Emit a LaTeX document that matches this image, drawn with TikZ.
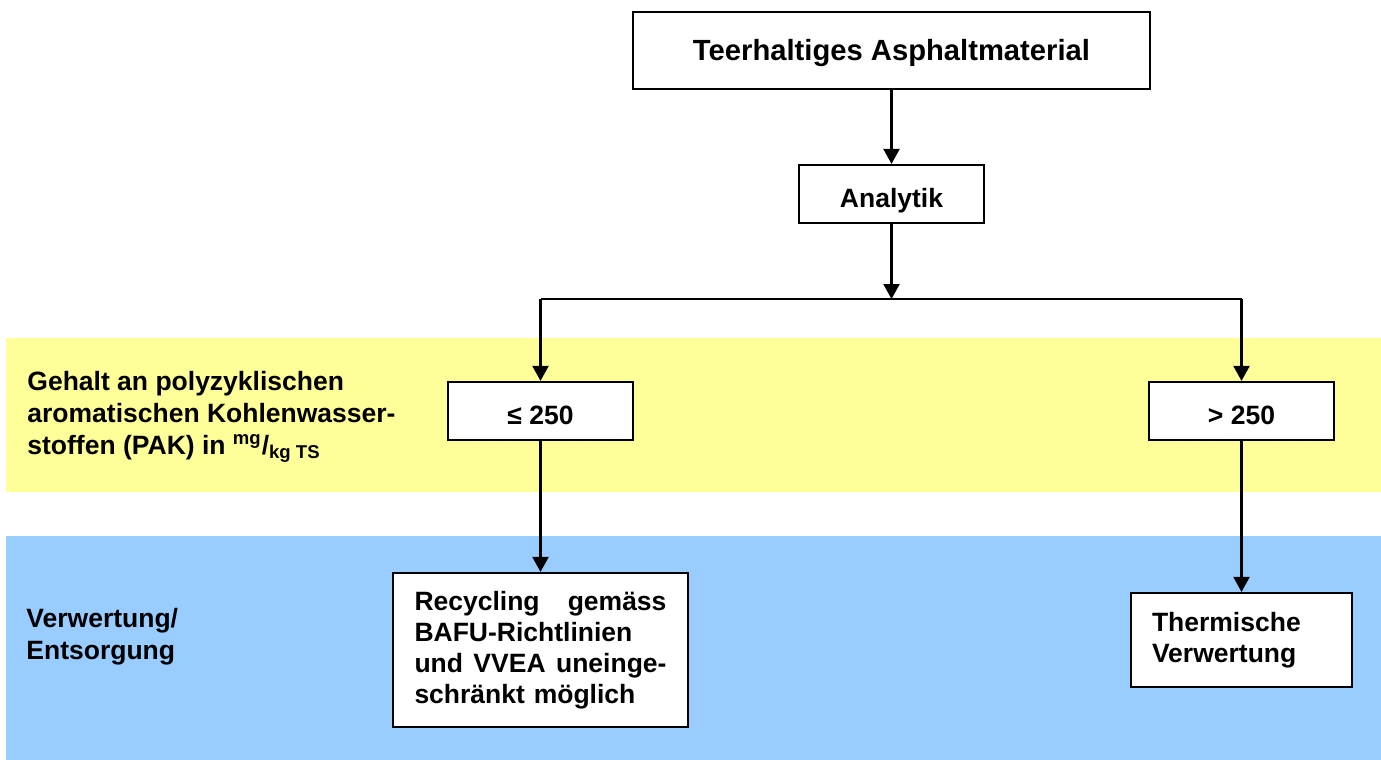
\documentclass[tikz,border=0pt]{standalone}
\usepackage{fontspec}
\setmainfont{Liberation Sans}
\usetikzlibrary{arrows.meta}
\definecolor{bandyellow}{RGB}{255,255,153}
\definecolor{bandblue}{RGB}{153,204,255}
\begin{document}
\begin{tikzpicture}[x=0.5pt,y=-0.5pt,
  box/.style={draw=black,line width=1.1pt,fill=white,inner sep=0pt,
    font=\bfseries\fontsize{13.25}{16}\selectfont},
  onebox/.style={box,text height=13pt,text depth=0pt},
  arr/.style={line width=1.1pt,-{Triangle[length=7.5pt,width=8pt]}},
  plain/.style={line width=1.1pt},
  lbl/.style={inner sep=0pt,align=left,anchor=west,
    font=\bfseries\fontsize{13.25}{16}\selectfont}]
\useasboundingbox (0,0) rectangle (1381,760);
% bands
\fill[bandyellow] (6,338) rectangle (1381,492);
\fill[bandblue] (6,536) rectangle (1381,760);
% labels
\node[lbl] (lab1) at (27,417) {Gehalt an polyzyklischen\\aromatischen Kohlenwasser-\\stoffen (PAK) in \textsuperscript{mg}/\textsubscript{kg TS}};
\node[lbl] (lab2) at (26,637) {Verwertung/\\Entsorgung};
% boxes
\node[box,minimum width=258.5pt,minimum height=38.5pt,text height=10.5pt,text depth=0pt,
  font=\bfseries\fontsize{14.6}{17}\selectfont] (top) at (891.5,50.5) {Teerhaltiges Asphaltmaterial};
\node[onebox,minimum width=92.5pt,minimum height=29pt] (an) at (891.5,194) {Analytik};
\node[onebox,minimum width=92.5pt,minimum height=29pt] (le) at (540.5,411) {≤ 250};
\node[onebox,minimum width=92.5pt,minimum height=29pt] (gt) at (1241.5,411) {> 250};
\node[box,minimum width=147.5pt,minimum height=77pt,text width=126pt,align=left,
  font=\bfseries\fontsize{13.25}{15.5}\selectfont] (rec) at (540.5,650)
  {Recycling\hfill gemäss\\BAFU-Richtlinien\\und\hfill VVEA\hfill uneinge-\\schränkt möglich};
\node[box,minimum width=110.5pt,minimum height=47pt,text width=89.5pt,align=left,
  font=\bfseries\fontsize{13.25}{15.5}\selectfont] (th) at (1241.5,640)
  {Thermische\\Verwertung};
% junction
\coordinate (j) at (891.5,299);
\coordinate (jl) at (540.5,299);
\coordinate (jr) at (1241.5,299);
% connectors
\draw[arr] (top) -- (an);
\draw[arr] (an) -- (j);
\draw[plain] (jl) -- (jr);
\draw[arr] (jl) -- (le);
\draw[arr] (jr) -- (gt);
\draw[arr] (le) -- (rec);
\draw[arr] (gt) -- (th);
\end{tikzpicture}
\end{document}
